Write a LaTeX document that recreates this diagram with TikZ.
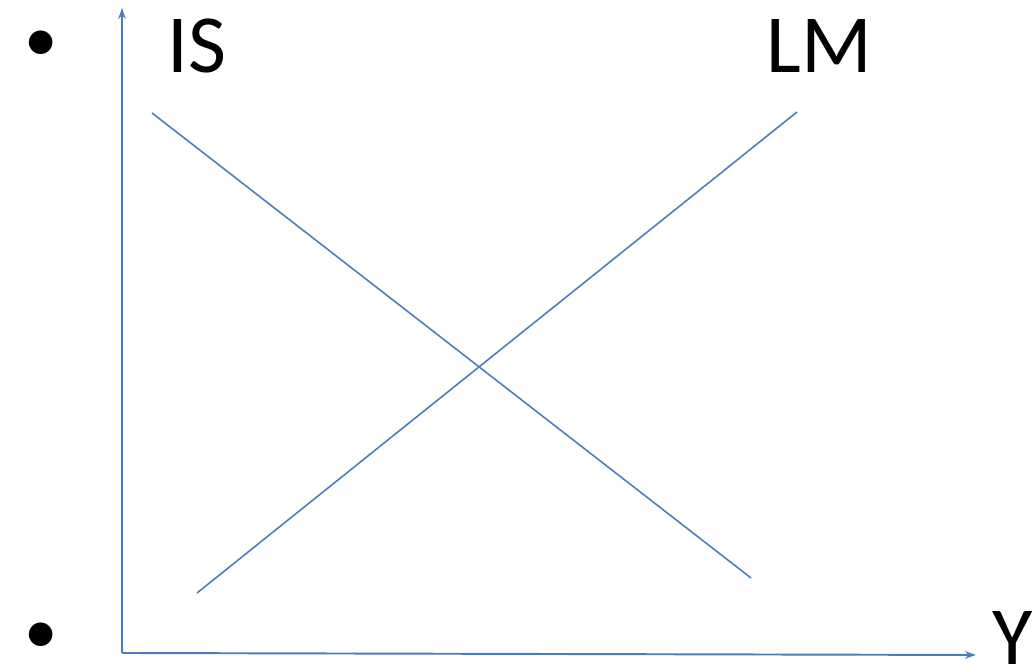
\documentclass[tikz,border=0pt]{standalone}
\usepackage{fontspec}
\setmainfont{Carlito}
\usepackage{xcolor}
\definecolor{lineblue}{RGB}{74,126,187}
\usetikzlibrary{arrows.meta}

\begin{document}
\begin{tikzpicture}[line width=0.45pt,
    axis/.style={color=lineblue,line width=0.55pt,-{Stealth[length=1.1mm,width=0.75mm]}},
    curve/.style={color=lineblue},
    lab/.style={anchor=base,inner sep=0pt,font=\fontsize{23.5}{28}\selectfont},
    dotlab/.style={anchor=base,inner sep=0pt,font=\fontsize{19}{22}\selectfont}]
    \useasboundingbox (0mm,0mm) rectangle (103.4mm,67.1mm);
    % axes
    \coordinate (O) at (12.2mm,1.8mm);
    \coordinate (ytop) at (12.2mm,66.3mm);
    \coordinate (xend) at (97.6mm,1.6mm);
    \draw[axis](O)--(ytop);
    \draw[axis](O)--(xend);
    % IS and LM
    \coordinate (is1) at (15.2mm,55.8mm);
    \coordinate (is2) at (75.1mm,9.3mm);
    \coordinate (lm1) at (19.7mm,7.8mm);
    \coordinate (lm2) at (79.7mm,55.9mm);
    \draw[curve](is1)--(is2);
    \draw[curve](lm1)--(lm2);
    \node[lab] (islab) at (19.7mm,59.8mm){IS};
    \node[lab] (lmlab) at (81.9mm,59.8mm){LM};
    \node[lab] (ylab) at (101.3mm,0.6mm){Y};
    \node[dotlab] (dot1) at (4.1mm,60.9mm){•};
    \node[dotlab] (dot2) at (4.1mm,1.7mm){•};
\end{tikzpicture}
\end{document}
